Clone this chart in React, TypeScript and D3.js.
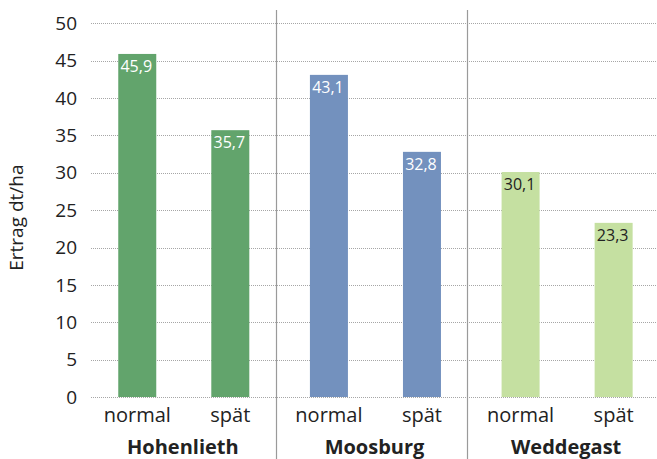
import React from "react";
import * as d3 from "d3";

const locations = ["Hohenlieth", "Moosburg", "Weddegast"];
const variants = ["normal", "spät"];
const yieldNormal = [45.9, 43.1, 30.1];
const yieldLate = [35.7, 32.8, 23.3];
const yTicks = [0, 5, 10, 15, 20, 25, 30, 35, 40, 45, 50];
const barColors = ["#62a46c", "#7391be", "#c5e0a1"];
const labelColors = ["#ffffff", "#ffffff", "#222222"];
const yTitle = "Ertrag dt/ha";

const W = 657;
const H = 459;
const FONT = "'Open Sans', sans-serif";

export default function App() {
  const x0 = d3.scaleBand<string>().domain(locations).range([84, 659]).padding(0);
  const x1 = d3
    .scalePoint<string>()
    .domain(variants)
    .range([0, x0.bandwidth()])
    .padding(0.53)
    .align(0.54);
  const y = d3.scaleLinear().domain([0, 50]).range([397, 23.3]);
  const barW = 38;

  const rows = locations.flatMap((loc, i) => [
    { loc, i, variant: variants[0], value: yieldNormal[i] },
    { loc, i, variant: variants[1], value: yieldLate[i] },
  ]);
  const fmt = (v: number) => v.toFixed(1).replace(".", ",");

  return (
    <svg width={W} height={H} style={{ position: "absolute", left: 0, top: 0, background: "#fff" }}>
      {/* horizontal grid */}
      {yTicks.map((t) => (
        <line
          key={"g" + t}
          x1={91}
          x2={W}
          y1={Math.round(y(t)) + 0.5}
          y2={Math.round(y(t)) + 0.5}
          stroke="#a6a6a6"
          strokeWidth={1}
          strokeDasharray="1,1"
        />
      ))}
      {/* y tick labels */}
      {yTicks.map((t) => (
        <text
          key={"t" + t}
          x={77}
          y={y(t)}
          dy="0.35em"
          textAnchor="end"
          fontFamily={FONT}
          fontSize={19}
          fill="#222"
        >
          {t}
        </text>
      ))}
      {/* group separators */}
      {locations.slice(1).map((loc) => (
        <line
          key={"s" + loc}
          x1={Math.round(x0(loc)!) + 0.5}
          x2={Math.round(x0(loc)!) + 0.5}
          y1={10}
          y2={H}
          stroke="#9a9a9a"
          strokeWidth={1.2}
        />
      ))}
      {/* bars */}
      {rows.map((r) => {
        const cx = x0(r.loc)! + x1(r.variant)!;
        return (
          <g key={r.loc + r.variant}>
            <rect
              x={cx - barW / 2}
              y={y(r.value)}
              width={barW}
              height={y(0) - y(r.value)}
              fill={barColors[r.i]}
            />
            <text
              x={cx - 1}
              y={y(r.value) + 18}
              textAnchor="middle"
              fontFamily={FONT}
              fontSize={16}
              fill={labelColors[r.i]}
            >
              {fmt(r.value)}
            </text>
            <text
              x={cx}
              y={422}
              textAnchor="middle"
              fontFamily={FONT}
              fontSize={20}
              fill="#222"
            >
              {r.variant}
            </text>
          </g>
        );
      })}
      {/* group labels */}
      {locations.map((loc) => (
        <text
          key={"l" + loc}
          x={x0(loc)! + x0.bandwidth() / 2 + 3}
          y={454}
          textAnchor="middle"
          fontFamily={FONT}
          fontWeight="bold"
          fontSize={20}
          fill="#222"
        >
          {loc}
        </text>
      ))}
      {/* y axis title */}
      <text
        transform={`translate(23, ${y(24)}) rotate(-90)`}
        textAnchor="middle"
        fontFamily={FONT}
        fontSize={19}
        fill="#222"
      >
        {yTitle}
      </text>
    </svg>
  );
}
